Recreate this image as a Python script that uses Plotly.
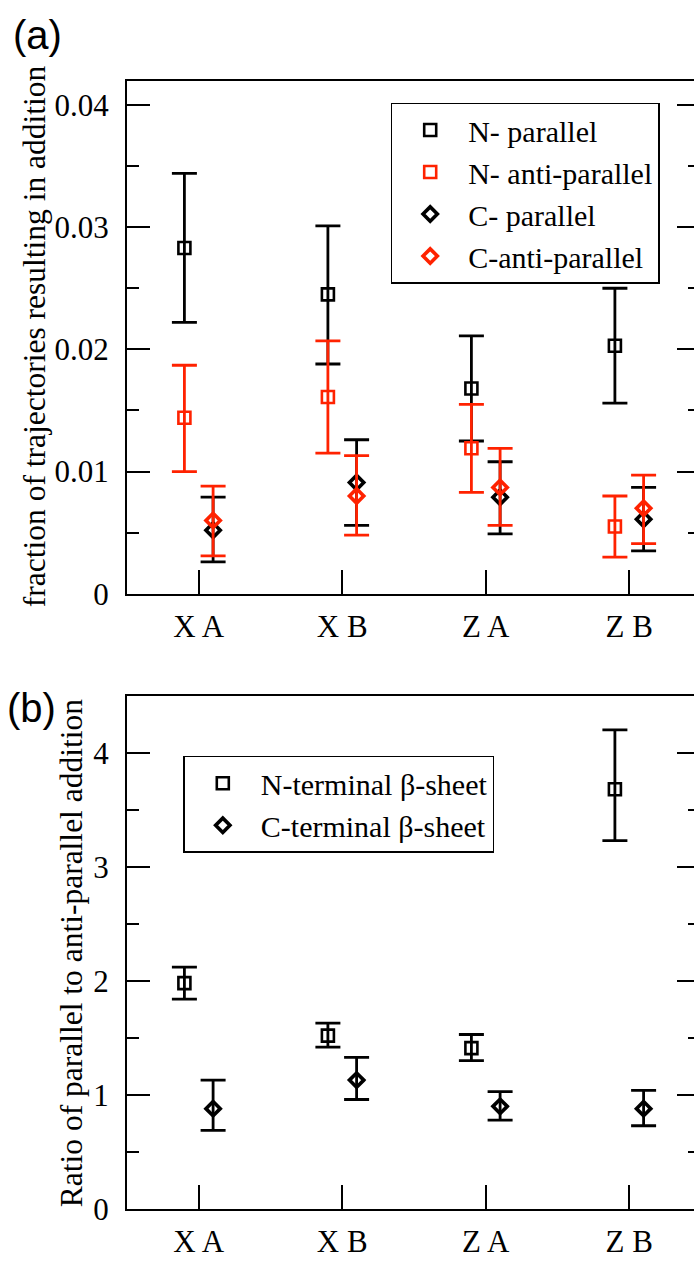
import plotly.graph_objects as go

# ---------------- data ----------------
categories = ["X A", "X B", "Z A", "Z B"]

# Panel (a): fraction of trajectories resulting in addition (center, upper, lower)
n_par = [0.0283, 0.0245, 0.0168, 0.0203]
n_par_hi = [0.0344, 0.0301, 0.0211, 0.0250]
n_par_lo = [0.0222, 0.0188, 0.0125, 0.0156]

n_anti = [0.0144, 0.0161, 0.0119, 0.0055]
n_anti_hi = [0.0187, 0.0207, 0.0155, 0.0080]
n_anti_lo = [0.0100, 0.0115, 0.0083, 0.0030]

c_par = [0.0052, 0.0091, 0.0079, 0.0061]
c_par_hi = [0.0079, 0.0126, 0.0108, 0.0087]
c_par_lo = [0.0026, 0.0056, 0.0049, 0.0035]

c_anti = [0.0060, 0.0080, 0.0087, 0.0070]
c_anti_hi = [0.0088, 0.0113, 0.0119, 0.0097]
c_anti_lo = [0.0031, 0.0048, 0.0056, 0.0041]

# Panel (b): ratio of parallel to anti-parallel addition
n_ratio = [1.98, 1.52, 1.41, 3.68]
n_ratio_hi = [2.12, 1.63, 1.53, 4.20]
n_ratio_lo = [1.84, 1.42, 1.30, 3.23]

c_ratio = [0.88, 1.13, 0.90, 0.88]
c_ratio_hi = [1.13, 1.33, 1.03, 1.04]
c_ratio_lo = [0.69, 0.96, 0.78, 0.73]

# ---------------- style ----------------
BLACK = "#000000"
RED = "#ff2200"
SERIF = "Liberation Serif"
SANS = "Liberation Sans"
W, H = 694, 1264
ML = 127
PW = W - ML
PX_PER_CAT = 143.5
X_LO = 0.5
X_HI = X_LO + PW / PX_PER_CAT
OFF = 0.1

pos = list(range(1, len(categories) + 1))


def shifted(d):
    return [p + d for p in pos]


def err(c, hi, lo, color):
    return dict(type="data", symmetric=False,
                array=[h - v for h, v in zip(hi, c)],
                arrayminus=[v - l for v, l in zip(c, lo)],
                color=color, thickness=2.8, width=12.5)


def series(x, y, hi, lo, name, color, symbol, size, lw, xa, ya, legend):
    return go.Scatter(x=x, y=y, mode="markers", name=name,
                      marker=dict(symbol=symbol, size=size, color=color,
                                  line=dict(color=color, width=lw)),
                      error_y=err(y, hi, lo, color),
                      xaxis=xa, yaxis=ya, legend=legend)


SQ, SQW = 12, 2.6
DI, DIW = 11, 3.6

fig = go.Figure()
fig.add_trace(series(shifted(-OFF), n_par, n_par_hi, n_par_lo, "N- parallel",
                     BLACK, "square-open", SQ, SQW, "x", "y", "legend"))
fig.add_trace(series(shifted(-OFF), n_anti, n_anti_hi, n_anti_lo, "N- anti-parallel",
                     RED, "square-open", SQ, SQW, "x", "y", "legend"))
fig.add_trace(series(shifted(OFF), c_par, c_par_hi, c_par_lo, "C- parallel",
                     BLACK, "diamond-open", DI, DIW, "x", "y", "legend"))
fig.add_trace(series(shifted(OFF), c_anti, c_anti_hi, c_anti_lo, "C-anti-parallel",
                     RED, "diamond-open", DI, DIW, "x", "y", "legend"))

fig.add_trace(series(shifted(-OFF), n_ratio, n_ratio_hi, n_ratio_lo, "N-terminal β-sheet",
                     BLACK, "square-open", SQ, SQW, "x2", "y2", "legend2"))
fig.add_trace(series(shifted(OFF), c_ratio, c_ratio_hi, c_ratio_lo, "C-terminal β-sheet",
                     BLACK, "diamond-open", DI, DIW, "x2", "y2", "legend2"))

# empty helper traces so the right-hand tick axes get drawn
fig.add_trace(go.Scatter(x=[], y=[], xaxis="x", yaxis="y3", showlegend=False, hoverinfo="skip"))
fig.add_trace(go.Scatter(x=[], y=[], xaxis="x2", yaxis="y4", showlegend=False, hoverinfo="skip"))

top_dom = [1 - 602.3 / H, 1 - 81.7 / H]
bot_dom = [1 - 1226.5 / H, 1 - 705.7 / H]

tickfont = dict(family=SERIF, size=31, color="black")


def xaxis_cfg(anchor):
    return dict(domain=[0, 1], anchor=anchor, range=[X_LO, X_HI],
                tickmode="array", tickvals=pos, ticktext=categories,
                ticks="inside", ticklen=24, tickwidth=2, tickcolor="black",
                showline=True, linewidth=2, linecolor="black", mirror=True,
                showgrid=False, zeroline=False, tickfont=tickfont,
                ticklabelstandoff=4)


def yaxis_cfg(anchor, dom, rng, dt):
    return dict(domain=dom, anchor=anchor, range=rng, dtick=dt, tick0=0,
                ticks="inside", ticklen=23, tickwidth=2, tickcolor="black",
                minor=dict(ticks="inside", ticklen=12, tickwidth=2,
                           tickcolor="black", dtick=dt / 2, showgrid=False),
                showline=True, linewidth=2, linecolor="black", mirror=False,
                showgrid=False, zeroline=False, tickfont=tickfont,
                ticklabelstandoff=10)


def right_cfg(over, anchor, rng, dt):
    return dict(overlaying=over, anchor=anchor, side="right", range=rng,
                dtick=dt, tick0=0, ticks="inside", ticklen=17, tickwidth=2,
                tickcolor="black",
                minor=dict(ticks="inside", ticklen=6, tickwidth=2,
                           tickcolor="black", dtick=dt / 2, showgrid=False),
                showline=False, showgrid=False, zeroline=False,
                showticklabels=False)


legend_font = dict(family=SERIF, size=30, color="black")

fig.update_layout(
    width=W, height=H,
    margin=dict(l=ML, r=0, t=0, b=0),
    paper_bgcolor="white", plot_bgcolor="white",
    xaxis=xaxis_cfg("y"),
    yaxis=yaxis_cfg("x", top_dom, [0, 0.042], 0.01),
    xaxis2=xaxis_cfg("y2"),
    yaxis2=yaxis_cfg("x2", bot_dom, [0, 4.5], 1),
    yaxis3=right_cfg("y", "x", [0, 0.042], 0.01),
    yaxis4=right_cfg("y2", "x2", [0, 4.5], 1),
    legend=dict(x=(390.7 - ML) / PW, y=1 - 104 / H, xanchor="left", yanchor="top",
                bgcolor="white", bordercolor="black", borderwidth=1.5,
                font=legend_font, itemwidth=66, tracegroupgap=0),
    legend2=dict(x=(183.3 - ML) / PW, y=1 - 766.7 / H, xanchor="left", yanchor="top",
                 bgcolor="white", bordercolor="black", borderwidth=1.5,
                 font=legend_font, itemwidth=66, tracegroupgap=0),
    showlegend=True,
)

TITLE_FONT = dict(family=SERIF, size=31.5, color="black")
fig.add_annotation(text="fraction of trajectories resulting in addition",
                   xref="paper", yref="paper", x=(34 - ML) / PW, y=1 - 341 / H,
                   xanchor="center", yanchor="middle", textangle=-90, showarrow=False,
                   font=TITLE_FONT)
fig.add_annotation(text="Ratio of parallel to anti-parallel addition",
                   xref="paper", yref="paper", x=(71 - ML) / PW, y=1 - 967 / H,
                   xanchor="center", yanchor="middle", textangle=-90, showarrow=False,
                   font=TITLE_FONT)
fig.add_annotation(text="(a)", xref="paper", yref="paper",
                   x=(37 - ML) / PW, y=1 - 35 / H, xanchor="center", yanchor="middle",
                   showarrow=False, font=dict(family=SANS, size=40, color="black"))
fig.add_annotation(text="(b)", xref="paper", yref="paper",
                   x=(31 - ML) / PW, y=1 - 718 / H, xanchor="center", yanchor="middle",
                   showarrow=False, font=dict(family=SANS, size=40, color="black"))

fig.write_html("out.html")
